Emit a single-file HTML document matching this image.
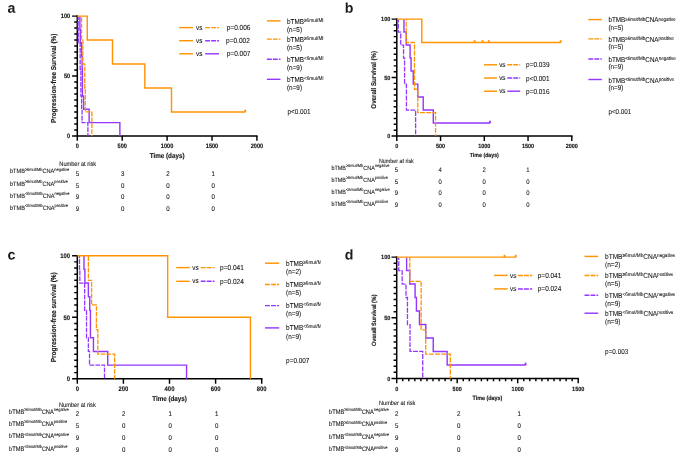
<!DOCTYPE html>
<html lang="en">
<head>
<meta charset="utf-8">
<title>Kaplan-Meier survival by bTMB and CNA status</title>
<style>
html,body{margin:0;padding:0;background:#fff;}
body{width:685px;height:462px;overflow:hidden;font-family:"Liberation Sans",Arial,Helvetica,sans-serif;}
svg{display:block;}
</style>
</head>
<body>
<svg width="685" height="462" viewBox="0 0 685 462" font-family="'Liberation Sans', Arial, Helvetica, sans-serif" fill="#161616" text-rendering="geometricPrecision">
<rect width="685" height="462" fill="#fff"/>
<text transform="translate(7.5 12.7) rotate(0.04) scale(0.7100 0.7100)" font-size="20" font-weight="bold" fill="#1c1c1c">a</text>
<text transform="translate(344.8 12.7) rotate(0.04) scale(0.7100 0.7100)" font-size="20" font-weight="bold" fill="#1c1c1c">b</text>
<text transform="translate(7.5 259.6) rotate(0.04) scale(0.7100 0.7100)" font-size="20" font-weight="bold" fill="#1c1c1c">c</text>
<text transform="translate(344.8 259.6) rotate(0.04) scale(0.7100 0.7100)" font-size="20" font-weight="bold" fill="#1c1c1c">d</text>
<g id="pa">
<path d="M77.3 15.35 V135.9 H257.65" fill="none" stroke="#000" stroke-width="1.5" stroke-linejoin="miter"/>
<path d="M77.3 135.9h-5.2M77.3 129.91h-3.1M77.3 123.92h-3.1M77.3 117.93h-3.1M77.3 111.94h-3.1M77.3 105.95h-3.1M77.3 99.96h-3.1M77.3 93.97h-3.1M77.3 87.98h-3.1M77.3 81.99h-3.1M77.3 76h-5.2M77.3 70.01h-3.1M77.3 64.02h-3.1M77.3 58.03h-3.1M77.3 52.04h-3.1M77.3 46.05h-3.1M77.3 40.06h-3.1M77.3 34.07h-3.1M77.3 28.08h-3.1M77.3 22.09h-3.1M77.3 16.1h-5.2M77.3 135.9v4.9M122.2 135.9v4.9M167.1 135.9v4.9M212 135.9v4.9M256.9 135.9v4.9" fill="none" stroke="#000" stroke-width="1.45"/>
<text transform="translate(70.2 138.15) rotate(0.04) scale(0.2800 0.3136)" font-size="20" text-anchor="end" font-weight="bold" stroke="#161616" stroke-width="0.43">0</text>
<text transform="translate(70.2 78.25) rotate(0.04) scale(0.2800 0.3136)" font-size="20" text-anchor="end" font-weight="bold" stroke="#161616" stroke-width="0.43">50</text>
<text transform="translate(70.2 18.35) rotate(0.04) scale(0.2800 0.3136)" font-size="20" text-anchor="end" font-weight="bold" stroke="#161616" stroke-width="0.43">100</text>
<text transform="translate(77.3 147.9) rotate(0.04) scale(0.2800 0.3136)" font-size="20" text-anchor="middle" font-weight="bold" stroke="#161616" stroke-width="0.43">0</text>
<text transform="translate(122.2 147.9) rotate(0.04) scale(0.2800 0.3136)" font-size="20" text-anchor="middle" font-weight="bold" stroke="#161616" stroke-width="0.43">500</text>
<text transform="translate(167.1 147.9) rotate(0.04) scale(0.2800 0.3136)" font-size="20" text-anchor="middle" font-weight="bold" stroke="#161616" stroke-width="0.43">1000</text>
<text transform="translate(212 147.9) rotate(0.04) scale(0.2800 0.3136)" font-size="20" text-anchor="middle" font-weight="bold" stroke="#161616" stroke-width="0.43">1500</text>
<text transform="translate(256.9 147.9) rotate(0.04) scale(0.2800 0.3136)" font-size="20" text-anchor="middle" font-weight="bold" stroke="#161616" stroke-width="0.43">2000</text>
<text transform="translate(167.1 158.4) rotate(0.04) scale(0.3150 0.3528)" font-size="20" text-anchor="middle" font-weight="bold" stroke="#161616" stroke-width="0.38">Time (days)</text>
<text transform="translate(55.9 78.3) rotate(-89.96) scale(0.3185 0.3567)" font-size="20" text-anchor="middle" font-weight="bold" stroke="#161616" stroke-width="0.38">Progression-free Survival (%)</text>
<path d="M79.9 16.5 V29.4 H80.26 V42.7 H81.61 V55.99 H82.15 V69.29 H82.42 V96.01 H83.59 V109.3 H89.15 V122.6 H119.87 V135.9" fill="none" stroke="#9437FF" stroke-width="1.42"/>
<path d="M78.15 16.5 V29.4 H78.29 V42.7 H80.17 V69.29 H80.89 V96.01 H81.61 V109.3 H82.06 V122.6 H87.9 V135.9" fill="none" stroke="#9437FF" stroke-width="1.3" stroke-dasharray="4.65 1.15" stroke-dashoffset="1.25"/>
<path d="M81.61 16.5 V40.06 H82.87 V64.02 H84.75 V87.98 H85.29 V111.94 H91.85 V135.9" fill="none" stroke="#FF9300" stroke-width="1.3" stroke-dasharray="4.65 1.15" stroke-dashoffset="4.71"/>
<path d="M77.3 16.1 H87.27 V40.06 H112.5 V64.02 H144.83 V87.98 H171.5 V111.94 H245.23" fill="none" stroke="#FF9300" stroke-width="1.42"/>
<path d="M245.23 112.24 v-2.6" fill="none" stroke="#FF9300" stroke-width="1.8"/>
<path d="M179.2 27.6H193" stroke="#FF9300" stroke-width="1.42" fill="none"/>
<text transform="translate(196.1 29.75) rotate(0.04) scale(0.3200 0.3584)" font-size="20" stroke="#161616" stroke-width="0.25">vs</text>
<path d="M205.2 27.6H219" stroke="#FF9300" stroke-width="1.45" fill="none" stroke-dasharray="4.9 1.1"/>
<text transform="translate(226.7 30.18) rotate(0.04) scale(0.3264 0.3656)" font-size="20" stroke="#161616" stroke-width="0.25">p=0.006</text>
<path d="M179.2 40.7H193" stroke="#FF9300" stroke-width="1.42" fill="none"/>
<text transform="translate(196.1 42.85) rotate(0.04) scale(0.3200 0.3584)" font-size="20" stroke="#161616" stroke-width="0.25">vs</text>
<path d="M205.2 40.7H219" stroke="#9437FF" stroke-width="1.45" fill="none" stroke-dasharray="4.9 1.1"/>
<text transform="translate(226 43.28) rotate(0.04) scale(0.3264 0.3656)" font-size="20" stroke="#161616" stroke-width="0.25">p=0.002</text>
<path d="M179.2 53.8H193" stroke="#FF9300" stroke-width="1.42" fill="none"/>
<text transform="translate(196.1 55.95) rotate(0.04) scale(0.3200 0.3584)" font-size="20" stroke="#161616" stroke-width="0.25">vs</text>
<path d="M205.2 53.8H219" stroke="#9437FF" stroke-width="1.42" fill="none"/>
<text transform="translate(226.7 56.38) rotate(0.04) scale(0.3264 0.3656)" font-size="20" stroke="#161616" stroke-width="0.25">p=0.007</text>
<clipPath id="ca"><rect x="285" y="8.9" width="38.4" height="88.4"/></clipPath>
<g clip-path="url(#ca)">
<text transform="translate(287 23.8) rotate(0.04) scale(0.3175 0.3556)" font-size="20" stroke="#161616" stroke-width="0.25">bTMB<tspan dy="-5.34" font-size="14.96">≥6mut/Mb</tspan></text>
<text transform="translate(287 32) rotate(0.04) scale(0.3175 0.3556)" font-size="20" stroke="#161616" stroke-width="0.25">(n=5)</text>
<text transform="translate(287 42) rotate(0.04) scale(0.3175 0.3556)" font-size="20" stroke="#161616" stroke-width="0.25">bTMB<tspan dy="-5.34" font-size="14.96">≥6mut/Mb</tspan></text>
<text transform="translate(287 50.2) rotate(0.04) scale(0.3175 0.3556)" font-size="20" stroke="#161616" stroke-width="0.25">(n=5)</text>
<text transform="translate(287 62.1) rotate(0.04) scale(0.3175 0.3556)" font-size="20" stroke="#161616" stroke-width="0.25">bTMB<tspan dy="-5.34" font-size="14.96">&lt;6mut/Mb</tspan></text>
<text transform="translate(287 70.3) rotate(0.04) scale(0.3175 0.3556)" font-size="20" stroke="#161616" stroke-width="0.25">(n=9)</text>
<text transform="translate(287 82.2) rotate(0.04) scale(0.3175 0.3556)" font-size="20" stroke="#161616" stroke-width="0.25">bTMB<tspan dy="-5.34" font-size="14.96">&lt;6mut/Mb</tspan></text>
<text transform="translate(287 90.4) rotate(0.04) scale(0.3175 0.3556)" font-size="20" stroke="#161616" stroke-width="0.25">(n=9)</text>
</g>
<path d="M266.9 20.9H280.5" stroke="#FF9300" stroke-width="1.42" fill="none"/>
<path d="M266.9 39.1H280.5" stroke="#FF9300" stroke-width="1.45" fill="none" stroke-dasharray="4.9 1.1"/>
<path d="M266.9 59.2H280.5" stroke="#9437FF" stroke-width="1.45" fill="none" stroke-dasharray="4.9 1.1"/>
<path d="M266.9 79.3H280.5" stroke="#9437FF" stroke-width="1.42" fill="none"/>
<text transform="translate(287.4 114.1) rotate(0.04) scale(0.3175 0.3556)" font-size="20" stroke="#161616" stroke-width="0.25">p&lt;0.001</text>
<text transform="translate(59.3 165.7) rotate(0.04) scale(0.2825 0.3164)" font-size="20" stroke="#161616" stroke-width="0.28">Number at risk</text>
<text transform="translate(10 173.3) rotate(0.04) scale(0.2800 0.3136)" font-size="20" stroke="#161616" stroke-width="0.29">bTMB<tspan dy="-7.97" font-size="14.14">≥6mut/Mb</tspan><tspan dy="7.97">CNA</tspan><tspan dy="-7.97" font-size="14.14">negative</tspan></text>
<text transform="translate(77.5 175.7) rotate(0.04) scale(0.3050 0.3416)" font-size="20" text-anchor="middle" stroke="#161616" stroke-width="0.26">5</text>
<text transform="translate(122.75 175.7) rotate(0.04) scale(0.3050 0.3416)" font-size="20" text-anchor="middle" stroke="#161616" stroke-width="0.26">3</text>
<text transform="translate(168 175.7) rotate(0.04) scale(0.3050 0.3416)" font-size="20" text-anchor="middle" stroke="#161616" stroke-width="0.26">2</text>
<text transform="translate(213.25 175.7) rotate(0.04) scale(0.3050 0.3416)" font-size="20" text-anchor="middle" stroke="#161616" stroke-width="0.26">1</text>
<text transform="translate(10 185.5) rotate(0.04) scale(0.2800 0.3136)" font-size="20" stroke="#161616" stroke-width="0.29">bTMB<tspan dy="-7.97" font-size="14.14">≥6mut/Mb</tspan><tspan dy="7.97">CNA</tspan><tspan dy="-7.97" font-size="14.14">positive</tspan></text>
<text transform="translate(77.5 187.55) rotate(0.04) scale(0.3050 0.3416)" font-size="20" text-anchor="middle" stroke="#161616" stroke-width="0.26">5</text>
<text transform="translate(122.75 187.55) rotate(0.04) scale(0.3050 0.3416)" font-size="20" text-anchor="middle" stroke="#161616" stroke-width="0.26">0</text>
<text transform="translate(168 187.55) rotate(0.04) scale(0.3050 0.3416)" font-size="20" text-anchor="middle" stroke="#161616" stroke-width="0.26">0</text>
<text transform="translate(213.25 187.55) rotate(0.04) scale(0.3050 0.3416)" font-size="20" text-anchor="middle" stroke="#161616" stroke-width="0.26">0</text>
<text transform="translate(10 197.7) rotate(0.04) scale(0.2800 0.3136)" font-size="20" stroke="#161616" stroke-width="0.29">bTMB<tspan dy="-7.97" font-size="14.14">&lt;6mut/Mb</tspan><tspan dy="7.97">CNA</tspan><tspan dy="-7.97" font-size="14.14">negative</tspan></text>
<text transform="translate(77.5 199.4) rotate(0.04) scale(0.3050 0.3416)" font-size="20" text-anchor="middle" stroke="#161616" stroke-width="0.26">9</text>
<text transform="translate(122.75 199.4) rotate(0.04) scale(0.3050 0.3416)" font-size="20" text-anchor="middle" stroke="#161616" stroke-width="0.26">0</text>
<text transform="translate(168 199.4) rotate(0.04) scale(0.3050 0.3416)" font-size="20" text-anchor="middle" stroke="#161616" stroke-width="0.26">0</text>
<text transform="translate(213.25 199.4) rotate(0.04) scale(0.3050 0.3416)" font-size="20" text-anchor="middle" stroke="#161616" stroke-width="0.26">0</text>
<text transform="translate(10 209.9) rotate(0.04) scale(0.2800 0.3136)" font-size="20" stroke="#161616" stroke-width="0.29">bTMB<tspan dy="-7.97" font-size="14.14">&lt;6mut/Mb</tspan><tspan dy="7.97">CNA</tspan><tspan dy="-7.97" font-size="14.14">positive</tspan></text>
<text transform="translate(77.5 211.25) rotate(0.04) scale(0.3050 0.3416)" font-size="20" text-anchor="middle" stroke="#161616" stroke-width="0.26">9</text>
<text transform="translate(122.75 211.25) rotate(0.04) scale(0.3050 0.3416)" font-size="20" text-anchor="middle" stroke="#161616" stroke-width="0.26">0</text>
<text transform="translate(168 211.25) rotate(0.04) scale(0.3050 0.3416)" font-size="20" text-anchor="middle" stroke="#161616" stroke-width="0.26">0</text>
<text transform="translate(213.25 211.25) rotate(0.04) scale(0.3050 0.3416)" font-size="20" text-anchor="middle" stroke="#161616" stroke-width="0.26">0</text>
</g>
<g id="pb">
<path d="M396.8 18.35 V136 H572.55" fill="none" stroke="#000" stroke-width="1.5" stroke-linejoin="miter"/>
<path d="M396.8 136h-5.2M396.8 130.16h-3.1M396.8 124.31h-3.1M396.8 118.47h-3.1M396.8 112.62h-3.1M396.8 106.78h-3.1M396.8 100.93h-3.1M396.8 95.08h-3.1M396.8 89.24h-3.1M396.8 83.39h-3.1M396.8 77.55h-5.2M396.8 71.7h-3.1M396.8 65.86h-3.1M396.8 60.02h-3.1M396.8 54.17h-3.1M396.8 48.33h-3.1M396.8 42.48h-3.1M396.8 36.63h-3.1M396.8 30.79h-3.1M396.8 24.95h-3.1M396.8 19.1h-5.2M396.8 136v4.9M440.55 136v4.9M484.3 136v4.9M528.05 136v4.9M571.8 136v4.9" fill="none" stroke="#000" stroke-width="1.45"/>
<text transform="translate(390.3 138.21) rotate(0.04) scale(0.2750 0.3080)" font-size="20" text-anchor="end" font-weight="bold" stroke="#161616" stroke-width="0.44">0</text>
<text transform="translate(390.3 79.76) rotate(0.04) scale(0.2750 0.3080)" font-size="20" text-anchor="end" font-weight="bold" stroke="#161616" stroke-width="0.44">50</text>
<text transform="translate(390.3 21.31) rotate(0.04) scale(0.2750 0.3080)" font-size="20" text-anchor="end" font-weight="bold" stroke="#161616" stroke-width="0.44">100</text>
<text transform="translate(396.8 147.8) rotate(0.04) scale(0.2750 0.3080)" font-size="20" text-anchor="middle" font-weight="bold" stroke="#161616" stroke-width="0.44">0</text>
<text transform="translate(440.55 147.8) rotate(0.04) scale(0.2750 0.3080)" font-size="20" text-anchor="middle" font-weight="bold" stroke="#161616" stroke-width="0.44">500</text>
<text transform="translate(484.3 147.8) rotate(0.04) scale(0.2750 0.3080)" font-size="20" text-anchor="middle" font-weight="bold" stroke="#161616" stroke-width="0.44">1000</text>
<text transform="translate(528.05 147.8) rotate(0.04) scale(0.2750 0.3080)" font-size="20" text-anchor="middle" font-weight="bold" stroke="#161616" stroke-width="0.44">1500</text>
<text transform="translate(571.8 147.8) rotate(0.04) scale(0.2750 0.3080)" font-size="20" text-anchor="middle" font-weight="bold" stroke="#161616" stroke-width="0.44">2000</text>
<text transform="translate(484.3 156.7) rotate(0.04) scale(0.2625 0.2940)" font-size="20" text-anchor="middle" font-weight="bold" stroke="#161616" stroke-width="0.46">Time (days)</text>
<text transform="translate(375.7 79.75) rotate(-89.96) scale(0.3075 0.3444)" font-size="20" text-anchor="middle" font-weight="bold" stroke="#161616" stroke-width="0.39">Overall Survival (%)</text>
<path d="M403.98 19.5 V32.08 H406.25 V45.05 H410.1 V58.03 H411.06 V71 H413.25 V84.1 H417.8 V97.07 H423.23 V110.05 H433.29 V123.02 H489.99" fill="none" stroke="#9437FF" stroke-width="1.42"/>
<path d="M489.99 123.32 v-2.6" fill="none" stroke="#9437FF" stroke-width="1.8"/>
<path d="M398.29 19.5 V32.08 H400.74 V45.05 H403.54 V58.03 H404.59 V84.1 H406.43 V110.05 H415.61 V136" fill="none" stroke="#9437FF" stroke-width="1.3" stroke-dasharray="4.9 1.25" stroke-dashoffset="1.89"/>
<path d="M406.25 19.5 V42.48 H414.48 V89.24 H417.8 V112.62 H435.56 V136" fill="none" stroke="#FF9300" stroke-width="1.3" stroke-dasharray="4.9 1.25" stroke-dashoffset="9.85"/>
<path d="M396.8 19.1 H421.82 V42.48 H560.69" fill="none" stroke="#FF9300" stroke-width="1.42"/>
<path d="M474.68 42.78 v-2.6" fill="none" stroke="#FF9300" stroke-width="1.8"/>
<path d="M482.46 42.78 v-2.6" fill="none" stroke="#FF9300" stroke-width="1.8"/>
<path d="M488.76 42.78 v-2.6" fill="none" stroke="#FF9300" stroke-width="1.8"/>
<path d="M560.69 42.78 v-2.6" fill="none" stroke="#FF9300" stroke-width="1.8"/>
<path d="M484 64.8H497" stroke="#FF9300" stroke-width="1.42" fill="none"/>
<text transform="translate(499.2 66.92) rotate(0.04) scale(0.3150 0.3528)" font-size="20" stroke="#161616" stroke-width="0.25">vs</text>
<path d="M507.3 64.8H520.2" stroke="#FF9300" stroke-width="1.45" fill="none" stroke-dasharray="4.9 1.1"/>
<text transform="translate(526.1 67.34) rotate(0.04) scale(0.3213 0.3599)" font-size="20" stroke="#161616" stroke-width="0.25">p=0.039</text>
<path d="M484 78H497" stroke="#FF9300" stroke-width="1.42" fill="none"/>
<text transform="translate(499.2 80.12) rotate(0.04) scale(0.3150 0.3528)" font-size="20" stroke="#161616" stroke-width="0.25">vs</text>
<path d="M507.3 78H520.2" stroke="#9437FF" stroke-width="1.45" fill="none" stroke-dasharray="4.9 1.1"/>
<text transform="translate(526.1 80.54) rotate(0.04) scale(0.3213 0.3599)" font-size="20" stroke="#161616" stroke-width="0.25">p&lt;0.001</text>
<path d="M484 91.2H497" stroke="#FF9300" stroke-width="1.42" fill="none"/>
<text transform="translate(499.2 93.32) rotate(0.04) scale(0.3150 0.3528)" font-size="20" stroke="#161616" stroke-width="0.25">vs</text>
<path d="M507.3 91.2H520.2" stroke="#9437FF" stroke-width="1.42" fill="none"/>
<text transform="translate(526.1 93.74) rotate(0.04) scale(0.3213 0.3599)" font-size="20" stroke="#161616" stroke-width="0.25">p=0.016</text>
<text transform="translate(608.4 22.4) rotate(0.04) scale(0.3150 0.3528)" font-size="20" stroke="#161616" stroke-width="0.25">bTMB<tspan dy="-5.39" font-size="14.29">≥6mut/Mb</tspan><tspan dy="5.39">CNA</tspan><tspan dy="-5.39" font-size="14.29">negative</tspan></text>
<text transform="translate(608.4 30) rotate(0.04) scale(0.3150 0.3528)" font-size="20" stroke="#161616" stroke-width="0.25">(n=5)</text>
<text transform="translate(608.4 41.95) rotate(0.04) scale(0.3150 0.3528)" font-size="20" stroke="#161616" stroke-width="0.25">bTMB<tspan dy="-5.39" font-size="14.29">≥6mut/Mb</tspan><tspan dy="5.39">CNA</tspan><tspan dy="-5.39" font-size="14.29">positive</tspan></text>
<text transform="translate(608.4 49.25) rotate(0.04) scale(0.3150 0.3528)" font-size="20" stroke="#161616" stroke-width="0.25">(n=5)</text>
<text transform="translate(608.4 61.6) rotate(0.04) scale(0.3150 0.3528)" font-size="20" stroke="#161616" stroke-width="0.25">bTMB<tspan dy="-5.39" font-size="14.29">&lt;6mut/Mb</tspan><tspan dy="5.39">CNA</tspan><tspan dy="-5.39" font-size="14.29">negative</tspan></text>
<text transform="translate(608.4 69.4) rotate(0.04) scale(0.3150 0.3528)" font-size="20" stroke="#161616" stroke-width="0.25">(n=9)</text>
<text transform="translate(608.4 82.7) rotate(0.04) scale(0.3150 0.3528)" font-size="20" stroke="#161616" stroke-width="0.25">bTMB<tspan dy="-5.39" font-size="14.29">&lt;6mut/Mb</tspan><tspan dy="5.39">CNA</tspan><tspan dy="-5.39" font-size="14.29">positive</tspan></text>
<text transform="translate(608.4 89.9) rotate(0.04) scale(0.3150 0.3528)" font-size="20" stroke="#161616" stroke-width="0.25">(n=9)</text>
<path d="M588.4 19.6H601.8" stroke="#FF9300" stroke-width="1.42" fill="none"/>
<path d="M588.4 38.85H601.8" stroke="#FF9300" stroke-width="1.45" fill="none" stroke-dasharray="4.9 1.1"/>
<path d="M588.4 59H601.8" stroke="#9437FF" stroke-width="1.45" fill="none" stroke-dasharray="4.9 1.1"/>
<path d="M588.4 79.5H601.8" stroke="#9437FF" stroke-width="1.42" fill="none"/>
<text transform="translate(608.4 114) rotate(0.04) scale(0.3150 0.3528)" font-size="20" stroke="#161616" stroke-width="0.25">p&lt;0.001</text>
<text transform="translate(379 162.6) rotate(0.04) scale(0.2675 0.2996)" font-size="20" stroke="#161616" stroke-width="0.3">Number at risk</text>
<text transform="translate(331.5 169.6) rotate(0.04) scale(0.2715 0.3041)" font-size="20" stroke="#161616" stroke-width="0.29">bTMB<tspan dy="-8.22" font-size="14.36">≥6mut/Mb</tspan><tspan dy="8.22">CNA</tspan><tspan dy="-8.22" font-size="14.36">negative</tspan></text>
<text transform="translate(396.3 172.3) rotate(0.04) scale(0.2950 0.3304)" font-size="20" text-anchor="middle" stroke="#161616" stroke-width="0.27">5</text>
<text transform="translate(440.2 172.3) rotate(0.04) scale(0.2950 0.3304)" font-size="20" text-anchor="middle" stroke="#161616" stroke-width="0.27">4</text>
<text transform="translate(484.1 172.3) rotate(0.04) scale(0.2950 0.3304)" font-size="20" text-anchor="middle" stroke="#161616" stroke-width="0.27">2</text>
<text transform="translate(528 172.3) rotate(0.04) scale(0.2950 0.3304)" font-size="20" text-anchor="middle" stroke="#161616" stroke-width="0.27">1</text>
<text transform="translate(331.5 181.6) rotate(0.04) scale(0.2715 0.3041)" font-size="20" stroke="#161616" stroke-width="0.29">bTMB<tspan dy="-8.22" font-size="14.36">≥6mut/Mb</tspan><tspan dy="8.22">CNA</tspan><tspan dy="-8.22" font-size="14.36">positive</tspan></text>
<text transform="translate(396.3 183.8) rotate(0.04) scale(0.2950 0.3304)" font-size="20" text-anchor="middle" stroke="#161616" stroke-width="0.27">5</text>
<text transform="translate(440.2 183.8) rotate(0.04) scale(0.2950 0.3304)" font-size="20" text-anchor="middle" stroke="#161616" stroke-width="0.27">0</text>
<text transform="translate(484.1 183.8) rotate(0.04) scale(0.2950 0.3304)" font-size="20" text-anchor="middle" stroke="#161616" stroke-width="0.27">0</text>
<text transform="translate(528 183.8) rotate(0.04) scale(0.2950 0.3304)" font-size="20" text-anchor="middle" stroke="#161616" stroke-width="0.27">0</text>
<text transform="translate(331.5 193.6) rotate(0.04) scale(0.2715 0.3041)" font-size="20" stroke="#161616" stroke-width="0.29">bTMB<tspan dy="-8.22" font-size="14.36">&lt;6mut/Mb</tspan><tspan dy="8.22">CNA</tspan><tspan dy="-8.22" font-size="14.36">negative</tspan></text>
<text transform="translate(396.3 195.3) rotate(0.04) scale(0.2950 0.3304)" font-size="20" text-anchor="middle" stroke="#161616" stroke-width="0.27">9</text>
<text transform="translate(440.2 195.3) rotate(0.04) scale(0.2950 0.3304)" font-size="20" text-anchor="middle" stroke="#161616" stroke-width="0.27">0</text>
<text transform="translate(484.1 195.3) rotate(0.04) scale(0.2950 0.3304)" font-size="20" text-anchor="middle" stroke="#161616" stroke-width="0.27">0</text>
<text transform="translate(528 195.3) rotate(0.04) scale(0.2950 0.3304)" font-size="20" text-anchor="middle" stroke="#161616" stroke-width="0.27">0</text>
<text transform="translate(331.5 205.6) rotate(0.04) scale(0.2715 0.3041)" font-size="20" stroke="#161616" stroke-width="0.29">bTMB<tspan dy="-8.22" font-size="14.36">&lt;6mut/Mb</tspan><tspan dy="8.22">CNA</tspan><tspan dy="-8.22" font-size="14.36">positive</tspan></text>
<text transform="translate(396.3 206.8) rotate(0.04) scale(0.2950 0.3304)" font-size="20" text-anchor="middle" stroke="#161616" stroke-width="0.27">9</text>
<text transform="translate(440.2 206.8) rotate(0.04) scale(0.2950 0.3304)" font-size="20" text-anchor="middle" stroke="#161616" stroke-width="0.27">0</text>
<text transform="translate(484.1 206.8) rotate(0.04) scale(0.2950 0.3304)" font-size="20" text-anchor="middle" stroke="#161616" stroke-width="0.27">0</text>
<text transform="translate(528 206.8) rotate(0.04) scale(0.2950 0.3304)" font-size="20" text-anchor="middle" stroke="#161616" stroke-width="0.27">0</text>
</g>
<g id="pc">
<path d="M77.3 254.95 V378.8 H262.45" fill="none" stroke="#000" stroke-width="1.5" stroke-linejoin="miter"/>
<path d="M77.3 378.8h-5.2M77.3 372.64h-3.1M77.3 366.49h-3.1M77.3 360.34h-3.1M77.3 354.18h-3.1M77.3 348.02h-3.1M77.3 341.87h-3.1M77.3 335.72h-3.1M77.3 329.56h-3.1M77.3 323.41h-3.1M77.3 317.25h-5.2M77.3 311.1h-3.1M77.3 304.94h-3.1M77.3 298.78h-3.1M77.3 292.63h-3.1M77.3 286.48h-3.1M77.3 280.32h-3.1M77.3 274.16h-3.1M77.3 268.01h-3.1M77.3 261.86h-3.1M77.3 255.7h-5.2M77.3 378.8v4.9M123.4 378.8v4.9M169.5 378.8v4.9M215.6 378.8v4.9M261.7 378.8v4.9" fill="none" stroke="#000" stroke-width="1.45"/>
<text transform="translate(70.1 381.17) rotate(0.04) scale(0.2950 0.3304)" font-size="20" text-anchor="end" font-weight="bold" stroke="#161616" stroke-width="0.41">0</text>
<text transform="translate(70.1 319.62) rotate(0.04) scale(0.2950 0.3304)" font-size="20" text-anchor="end" font-weight="bold" stroke="#161616" stroke-width="0.41">50</text>
<text transform="translate(70.1 258.07) rotate(0.04) scale(0.2950 0.3304)" font-size="20" text-anchor="end" font-weight="bold" stroke="#161616" stroke-width="0.41">100</text>
<text transform="translate(77.3 390.7) rotate(0.04) scale(0.2950 0.3304)" font-size="20" text-anchor="middle" font-weight="bold" stroke="#161616" stroke-width="0.41">0</text>
<text transform="translate(123.4 390.7) rotate(0.04) scale(0.2950 0.3304)" font-size="20" text-anchor="middle" font-weight="bold" stroke="#161616" stroke-width="0.41">200</text>
<text transform="translate(169.5 390.7) rotate(0.04) scale(0.2950 0.3304)" font-size="20" text-anchor="middle" font-weight="bold" stroke="#161616" stroke-width="0.41">400</text>
<text transform="translate(215.6 390.7) rotate(0.04) scale(0.2950 0.3304)" font-size="20" text-anchor="middle" font-weight="bold" stroke="#161616" stroke-width="0.41">600</text>
<text transform="translate(261.7 390.7) rotate(0.04) scale(0.2950 0.3304)" font-size="20" text-anchor="middle" font-weight="bold" stroke="#161616" stroke-width="0.41">800</text>
<text transform="translate(169.5 401.4) rotate(0.04) scale(0.3125 0.3500)" font-size="20" text-anchor="middle" font-weight="bold" stroke="#161616" stroke-width="0.38">Time (days)</text>
<text transform="translate(55.9 317.25) rotate(-89.96) scale(0.3240 0.3629)" font-size="20" text-anchor="middle" font-weight="bold" stroke="#161616" stroke-width="0.37">Progression-free survival (%)</text>
<path d="M83.98 256.1 V269.36 H84.91 V283.03 H88.36 V296.69 H89.75 V310.36 H90.44 V337.81 H93.44 V351.47 H107.73 V365.14 H186.56 V378.8" fill="none" stroke="#9437FF" stroke-width="1.42"/>
<path d="M79.49 256.1 V269.36 H79.84 V283.03 H84.68 V310.36 H86.52 V337.81 H88.36 V351.47 H89.52 V365.14 H104.5 V378.8" fill="none" stroke="#9437FF" stroke-width="1.3" stroke-dasharray="4.65 1.15" stroke-dashoffset="2.59"/>
<path d="M88.36 256.1 V280.32 H91.59 V304.94 H96.43 V329.56 H97.81 V354.18 H114.64 V378.8" fill="none" stroke="#FF9300" stroke-width="1.3" stroke-dasharray="4.65 1.15" stroke-dashoffset="11.46"/>
<path d="M77.3 255.7 H167.66 V317.25 H250.41 V378.8" fill="none" stroke="#FF9300" stroke-width="1.42"/>
<path d="M176.2 267.6H189.7" stroke="#FF9300" stroke-width="1.42" fill="none"/>
<text transform="translate(192.2 269.75) rotate(0.04) scale(0.3200 0.3584)" font-size="20" stroke="#161616" stroke-width="0.25">vs</text>
<path d="M200.7 267.6H214.5" stroke="#FF9300" stroke-width="1.45" fill="none" stroke-dasharray="4.9 1.1"/>
<text transform="translate(220.1 270.18) rotate(0.04) scale(0.3264 0.3656)" font-size="20" stroke="#161616" stroke-width="0.25">p=0.041</text>
<path d="M176.2 281.3H189.7" stroke="#FF9300" stroke-width="1.42" fill="none"/>
<text transform="translate(192.2 283.45) rotate(0.04) scale(0.3200 0.3584)" font-size="20" stroke="#161616" stroke-width="0.25">vs</text>
<path d="M200.7 281.3H214.5" stroke="#9437FF" stroke-width="1.45" fill="none" stroke-dasharray="4.9 1.1"/>
<text transform="translate(220.1 283.88) rotate(0.04) scale(0.3264 0.3656)" font-size="20" stroke="#161616" stroke-width="0.25">p=0.024</text>
<clipPath id="cc"><rect x="284.1" y="251.2" width="36.6" height="94.7"/></clipPath>
<g clip-path="url(#cc)">
<text transform="translate(286.1 265.8) rotate(0.04) scale(0.3200 0.3584)" font-size="20" stroke="#161616" stroke-width="0.25">bTMB<tspan dy="-5.3" font-size="14.84">≥6mut/Mb</tspan></text>
<text transform="translate(286.1 274.2) rotate(0.04) scale(0.3200 0.3584)" font-size="20" stroke="#161616" stroke-width="0.25">(n=2)</text>
<text transform="translate(286.1 287) rotate(0.04) scale(0.3200 0.3584)" font-size="20" stroke="#161616" stroke-width="0.25">bTMB<tspan dy="-5.3" font-size="14.84">≥6mut/Mb</tspan></text>
<text transform="translate(286.1 295.4) rotate(0.04) scale(0.3200 0.3584)" font-size="20" stroke="#161616" stroke-width="0.25">(n=5)</text>
<text transform="translate(286.1 307.8) rotate(0.04) scale(0.3200 0.3584)" font-size="20" stroke="#161616" stroke-width="0.25">bTMB<tspan dy="-5.3" font-size="14.84">&lt;6mut/Mb</tspan></text>
<text transform="translate(286.1 316.2) rotate(0.04) scale(0.3200 0.3584)" font-size="20" stroke="#161616" stroke-width="0.25">(n=9)</text>
<text transform="translate(286.1 330.1) rotate(0.04) scale(0.3200 0.3584)" font-size="20" stroke="#161616" stroke-width="0.25">bTMB<tspan dy="-5.3" font-size="14.84">&lt;6mut/Mb</tspan></text>
<text transform="translate(286.1 338.5) rotate(0.04) scale(0.3200 0.3584)" font-size="20" stroke="#161616" stroke-width="0.25">(n=9)</text>
</g>
<path d="M265 263.2H279.2" stroke="#FF9300" stroke-width="1.42" fill="none"/>
<path d="M265 284.4H279.2" stroke="#FF9300" stroke-width="1.45" fill="none" stroke-dasharray="4.9 1.1"/>
<path d="M265 305.6H279.2" stroke="#9437FF" stroke-width="1.45" fill="none" stroke-dasharray="4.9 1.1"/>
<path d="M265 327.9H279.2" stroke="#9437FF" stroke-width="1.42" fill="none"/>
<text transform="translate(286.1 362.9) rotate(0.04) scale(0.3200 0.3584)" font-size="20" stroke="#161616" stroke-width="0.25">p=0.007</text>
<text transform="translate(59 406.7) rotate(0.04) scale(0.2825 0.3164)" font-size="20" stroke="#161616" stroke-width="0.28">Number at risk</text>
<text transform="translate(9 413.6) rotate(0.04) scale(0.2850 0.3192)" font-size="20" stroke="#161616" stroke-width="0.28">bTMB<tspan dy="-7.83" font-size="13.89">≥6mut/Mb</tspan><tspan dy="7.83">CNA</tspan><tspan dy="-7.83" font-size="13.89">negative</tspan></text>
<text transform="translate(77.4 416.1) rotate(0.04) scale(0.3050 0.3416)" font-size="20" text-anchor="middle" stroke="#161616" stroke-width="0.26">2</text>
<text transform="translate(123.8 416.1) rotate(0.04) scale(0.3050 0.3416)" font-size="20" text-anchor="middle" stroke="#161616" stroke-width="0.26">2</text>
<text transform="translate(170.2 416.1) rotate(0.04) scale(0.3050 0.3416)" font-size="20" text-anchor="middle" stroke="#161616" stroke-width="0.26">1</text>
<text transform="translate(216.6 416.1) rotate(0.04) scale(0.3050 0.3416)" font-size="20" text-anchor="middle" stroke="#161616" stroke-width="0.26">1</text>
<text transform="translate(9 425.9) rotate(0.04) scale(0.2850 0.3192)" font-size="20" stroke="#161616" stroke-width="0.28">bTMB<tspan dy="-7.83" font-size="13.89">≥6mut/Mb</tspan><tspan dy="7.83">CNA</tspan><tspan dy="-7.83" font-size="13.89">positive</tspan></text>
<text transform="translate(77.4 428.13) rotate(0.04) scale(0.3050 0.3416)" font-size="20" text-anchor="middle" stroke="#161616" stroke-width="0.26">5</text>
<text transform="translate(123.8 428.13) rotate(0.04) scale(0.3050 0.3416)" font-size="20" text-anchor="middle" stroke="#161616" stroke-width="0.26">0</text>
<text transform="translate(170.2 428.13) rotate(0.04) scale(0.3050 0.3416)" font-size="20" text-anchor="middle" stroke="#161616" stroke-width="0.26">0</text>
<text transform="translate(216.6 428.13) rotate(0.04) scale(0.3050 0.3416)" font-size="20" text-anchor="middle" stroke="#161616" stroke-width="0.26">0</text>
<text transform="translate(9 438.2) rotate(0.04) scale(0.2850 0.3192)" font-size="20" stroke="#161616" stroke-width="0.28">bTMB<tspan dy="-7.83" font-size="13.89">&lt;6mut/Mb</tspan><tspan dy="7.83">CNA</tspan><tspan dy="-7.83" font-size="13.89">negative</tspan></text>
<text transform="translate(77.4 440.16) rotate(0.04) scale(0.3050 0.3416)" font-size="20" text-anchor="middle" stroke="#161616" stroke-width="0.26">9</text>
<text transform="translate(123.8 440.16) rotate(0.04) scale(0.3050 0.3416)" font-size="20" text-anchor="middle" stroke="#161616" stroke-width="0.26">0</text>
<text transform="translate(170.2 440.16) rotate(0.04) scale(0.3050 0.3416)" font-size="20" text-anchor="middle" stroke="#161616" stroke-width="0.26">0</text>
<text transform="translate(216.6 440.16) rotate(0.04) scale(0.3050 0.3416)" font-size="20" text-anchor="middle" stroke="#161616" stroke-width="0.26">0</text>
<text transform="translate(9 450.5) rotate(0.04) scale(0.2850 0.3192)" font-size="20" stroke="#161616" stroke-width="0.28">bTMB<tspan dy="-7.83" font-size="13.89">&lt;6mut/Mb</tspan><tspan dy="7.83">CNA</tspan><tspan dy="-7.83" font-size="13.89">positive</tspan></text>
<text transform="translate(77.4 452.19) rotate(0.04) scale(0.3050 0.3416)" font-size="20" text-anchor="middle" stroke="#161616" stroke-width="0.26">9</text>
<text transform="translate(123.8 452.19) rotate(0.04) scale(0.3050 0.3416)" font-size="20" text-anchor="middle" stroke="#161616" stroke-width="0.26">0</text>
<text transform="translate(170.2 452.19) rotate(0.04) scale(0.3050 0.3416)" font-size="20" text-anchor="middle" stroke="#161616" stroke-width="0.26">0</text>
<text transform="translate(216.6 452.19) rotate(0.04) scale(0.3050 0.3416)" font-size="20" text-anchor="middle" stroke="#161616" stroke-width="0.26">0</text>
</g>
<g id="pd">
<path d="M396.7 256.35 V378.4 H578.95" fill="none" stroke="#000" stroke-width="1.5" stroke-linejoin="miter"/>
<path d="M396.7 378.4h-5.2M396.7 372.33h-3.1M396.7 366.27h-3.1M396.7 360.2h-3.1M396.7 354.14h-3.1M396.7 348.07h-3.1M396.7 342.01h-3.1M396.7 335.94h-3.1M396.7 329.88h-3.1M396.7 323.81h-3.1M396.7 317.75h-5.2M396.7 311.69h-3.1M396.7 305.62h-3.1M396.7 299.56h-3.1M396.7 293.49h-3.1M396.7 287.43h-3.1M396.7 281.36h-3.1M396.7 275.3h-3.1M396.7 269.23h-3.1M396.7 263.17h-3.1M396.7 257.1h-5.2M396.7 378.4v4.9M457.2 378.4v4.9M517.7 378.4v4.9M578.2 378.4v4.9M396.7 378.4v2.9M402.75 378.4v2.9M408.8 378.4v2.9M414.85 378.4v2.9M420.9 378.4v2.9M426.95 378.4v2.9M433 378.4v2.9M439.05 378.4v2.9M445.1 378.4v2.9M451.15 378.4v2.9M457.2 378.4v2.9M463.25 378.4v2.9M469.3 378.4v2.9M475.35 378.4v2.9M481.4 378.4v2.9M487.45 378.4v2.9M493.5 378.4v2.9M499.55 378.4v2.9M505.6 378.4v2.9M511.65 378.4v2.9M517.7 378.4v2.9M523.75 378.4v2.9M529.8 378.4v2.9M535.85 378.4v2.9M541.9 378.4v2.9M547.95 378.4v2.9M554 378.4v2.9M560.05 378.4v2.9M566.1 378.4v2.9M572.15 378.4v2.9M578.2 378.4v2.9" fill="none" stroke="#000" stroke-width="1.45"/>
<text transform="translate(390.3 380.61) rotate(0.04) scale(0.2750 0.3080)" font-size="20" text-anchor="end" font-weight="bold" stroke="#161616" stroke-width="0.44">0</text>
<text transform="translate(390.3 319.96) rotate(0.04) scale(0.2750 0.3080)" font-size="20" text-anchor="end" font-weight="bold" stroke="#161616" stroke-width="0.44">50</text>
<text transform="translate(390.3 259.31) rotate(0.04) scale(0.2750 0.3080)" font-size="20" text-anchor="end" font-weight="bold" stroke="#161616" stroke-width="0.44">100</text>
<text transform="translate(396.7 390.8) rotate(0.04) scale(0.2750 0.3080)" font-size="20" text-anchor="middle" font-weight="bold" stroke="#161616" stroke-width="0.44">0</text>
<text transform="translate(457.2 390.8) rotate(0.04) scale(0.2750 0.3080)" font-size="20" text-anchor="middle" font-weight="bold" stroke="#161616" stroke-width="0.44">500</text>
<text transform="translate(517.7 390.8) rotate(0.04) scale(0.2750 0.3080)" font-size="20" text-anchor="middle" font-weight="bold" stroke="#161616" stroke-width="0.44">1000</text>
<text transform="translate(578.2 390.8) rotate(0.04) scale(0.2750 0.3080)" font-size="20" text-anchor="middle" font-weight="bold" stroke="#161616" stroke-width="0.44">1500</text>
<text transform="translate(487.45 400.2) rotate(0.04) scale(0.2700 0.3024)" font-size="20" text-anchor="middle" font-weight="bold" stroke="#161616" stroke-width="0.44">Time (days)</text>
<text transform="translate(375.8 320.25) rotate(-89.96) scale(0.2750 0.3080)" font-size="20" text-anchor="middle" font-weight="bold" stroke="#161616" stroke-width="0.44">Overall Survival (%)</text>
<path d="M406.62 257.5 V270.56 H409.77 V284.03 H415.09 V297.49 H416.42 V310.96 H419.45 V324.54 H425.74 V338.01 H433.24 V351.47 H447.16 V364.94 H525.57" fill="none" stroke="#9437FF" stroke-width="1.42"/>
<path d="M525.57 365.24 v-2.6" fill="none" stroke="#9437FF" stroke-width="1.8"/>
<path d="M398.76 257.5 V270.56 H402.14 V284.03 H406.02 V297.49 H407.47 V324.54 H410.01 V351.47 H422.71 V378.4" fill="none" stroke="#9437FF" stroke-width="1.3" stroke-dasharray="4.9 1.25" stroke-dashoffset="2.46"/>
<path d="M409.77 257.5 V281.36 H421.14 V329.88 H425.74 V354.14 H450.3 V378.4" fill="none" stroke="#FF9300" stroke-width="1.3" stroke-dasharray="4.9 1.25" stroke-dashoffset="13.47"/>
<path d="M396.7 257.1 H515.76" fill="none" stroke="#FF9300" stroke-width="1.42"/>
<path d="M504.51 257.4 v-2.6" fill="none" stroke="#FF9300" stroke-width="1.8"/>
<path d="M515.76 257.4 v-2.6" fill="none" stroke="#FF9300" stroke-width="1.8"/>
<path d="M494.1 275.4H507.7" stroke="#FF9300" stroke-width="1.42" fill="none"/>
<text transform="translate(510 277.52) rotate(0.04) scale(0.3150 0.3528)" font-size="20" stroke="#161616" stroke-width="0.25">vs</text>
<path d="M518 275.4H532.2" stroke="#FF9300" stroke-width="1.45" fill="none" stroke-dasharray="4.9 1.1"/>
<text transform="translate(537.8 277.94) rotate(0.04) scale(0.3213 0.3599)" font-size="20" stroke="#161616" stroke-width="0.25">p=0.041</text>
<path d="M494.1 288.9H507.7" stroke="#FF9300" stroke-width="1.42" fill="none"/>
<text transform="translate(510 291.02) rotate(0.04) scale(0.3150 0.3528)" font-size="20" stroke="#161616" stroke-width="0.25">vs</text>
<path d="M518 288.9H532.2" stroke="#9437FF" stroke-width="1.45" fill="none" stroke-dasharray="4.9 1.1"/>
<text transform="translate(537.8 291.44) rotate(0.04) scale(0.3213 0.3599)" font-size="20" stroke="#161616" stroke-width="0.25">p=0.024</text>
<text transform="translate(605 259.1) rotate(0.04) scale(0.3275 0.3668)" font-size="20" stroke="#161616" stroke-width="0.24">bTMB<tspan dy="-5.18" font-size="14.29">≥6mut/Mb</tspan><tspan dy="5.18">CNA</tspan><tspan dy="-5.18" font-size="14.29">negative</tspan></text>
<text transform="translate(605 266.8) rotate(0.04) scale(0.3275 0.3668)" font-size="20" stroke="#161616" stroke-width="0.24">(n=2)</text>
<text transform="translate(605 278.2) rotate(0.04) scale(0.3275 0.3668)" font-size="20" stroke="#161616" stroke-width="0.24">bTMB<tspan dy="-5.18" font-size="14.29">≥6mut/Mb</tspan><tspan dy="5.18">CNA</tspan><tspan dy="-5.18" font-size="14.29">positive</tspan></text>
<text transform="translate(605 285.9) rotate(0.04) scale(0.3275 0.3668)" font-size="20" stroke="#161616" stroke-width="0.24">(n=5)</text>
<text transform="translate(605 297.9) rotate(0.04) scale(0.3275 0.3668)" font-size="20" stroke="#161616" stroke-width="0.24">bTMB<tspan dy="-5.18" font-size="14.29">&lt;6mut/Mb</tspan><tspan dy="5.18">CNA</tspan><tspan dy="-5.18" font-size="14.29">negative</tspan></text>
<text transform="translate(605 305.6) rotate(0.04) scale(0.3275 0.3668)" font-size="20" stroke="#161616" stroke-width="0.24">(n=9)</text>
<text transform="translate(605 315.9) rotate(0.04) scale(0.3275 0.3668)" font-size="20" stroke="#161616" stroke-width="0.24">bTMB<tspan dy="-5.18" font-size="14.29">&lt;6mut/Mb</tspan><tspan dy="5.18">CNA</tspan><tspan dy="-5.18" font-size="14.29">positive</tspan></text>
<text transform="translate(605 323.6) rotate(0.04) scale(0.3275 0.3668)" font-size="20" stroke="#161616" stroke-width="0.24">(n=9)</text>
<path d="M584.5 256.4H598.2" stroke="#FF9300" stroke-width="1.42" fill="none"/>
<path d="M584.5 275.5H598.2" stroke="#FF9300" stroke-width="1.45" fill="none" stroke-dasharray="4.9 1.1"/>
<path d="M584.5 295.2H598.2" stroke="#9437FF" stroke-width="1.45" fill="none" stroke-dasharray="4.9 1.1"/>
<path d="M584.5 313.2H598.2" stroke="#9437FF" stroke-width="1.42" fill="none"/>
<text transform="translate(605.1 353.9) rotate(0.04) scale(0.3175 0.3556)" font-size="20" stroke="#161616" stroke-width="0.25">p=0.003</text>
<text transform="translate(379 404.9) rotate(0.04) scale(0.2800 0.3136)" font-size="20" stroke="#161616" stroke-width="0.29">Number at risk</text>
<text transform="translate(329 413.6) rotate(0.04) scale(0.2850 0.3192)" font-size="20" stroke="#161616" stroke-width="0.28">bTMB<tspan dy="-7.83" font-size="13.89">≥6mut/Mb</tspan><tspan dy="7.83">CNA</tspan><tspan dy="-7.83" font-size="13.89">negative</tspan></text>
<text transform="translate(396.7 415.9) rotate(0.04) scale(0.3050 0.3416)" font-size="20" text-anchor="middle" stroke="#161616" stroke-width="0.26">2</text>
<text transform="translate(458.6 415.9) rotate(0.04) scale(0.3050 0.3416)" font-size="20" text-anchor="middle" stroke="#161616" stroke-width="0.26">2</text>
<text transform="translate(519.2 415.9) rotate(0.04) scale(0.3050 0.3416)" font-size="20" text-anchor="middle" stroke="#161616" stroke-width="0.26">1</text>
<text transform="translate(329 426.2) rotate(0.04) scale(0.2850 0.3192)" font-size="20" stroke="#161616" stroke-width="0.28">bTMB<tspan dy="-7.83" font-size="13.89">≥6mut/Mb</tspan><tspan dy="7.83">CNA</tspan><tspan dy="-7.83" font-size="13.89">positive</tspan></text>
<text transform="translate(396.7 427.83) rotate(0.04) scale(0.3050 0.3416)" font-size="20" text-anchor="middle" stroke="#161616" stroke-width="0.26">5</text>
<text transform="translate(458.6 427.83) rotate(0.04) scale(0.3050 0.3416)" font-size="20" text-anchor="middle" stroke="#161616" stroke-width="0.26">0</text>
<text transform="translate(519.2 427.83) rotate(0.04) scale(0.3050 0.3416)" font-size="20" text-anchor="middle" stroke="#161616" stroke-width="0.26">0</text>
<text transform="translate(329 438.8) rotate(0.04) scale(0.2850 0.3192)" font-size="20" stroke="#161616" stroke-width="0.28">bTMB<tspan dy="-7.83" font-size="13.89">&lt;6mut/Mb</tspan><tspan dy="7.83">CNA</tspan><tspan dy="-7.83" font-size="13.89">negative</tspan></text>
<text transform="translate(396.7 439.76) rotate(0.04) scale(0.3050 0.3416)" font-size="20" text-anchor="middle" stroke="#161616" stroke-width="0.26">9</text>
<text transform="translate(458.6 439.76) rotate(0.04) scale(0.3050 0.3416)" font-size="20" text-anchor="middle" stroke="#161616" stroke-width="0.26">0</text>
<text transform="translate(519.2 439.76) rotate(0.04) scale(0.3050 0.3416)" font-size="20" text-anchor="middle" stroke="#161616" stroke-width="0.26">0</text>
<text transform="translate(329 451.4) rotate(0.04) scale(0.2850 0.3192)" font-size="20" stroke="#161616" stroke-width="0.28">bTMB<tspan dy="-7.83" font-size="13.89">&lt;6mut/Mb</tspan><tspan dy="7.83">CNA</tspan><tspan dy="-7.83" font-size="13.89">positive</tspan></text>
<text transform="translate(396.7 451.69) rotate(0.04) scale(0.3050 0.3416)" font-size="20" text-anchor="middle" stroke="#161616" stroke-width="0.26">9</text>
<text transform="translate(458.6 451.69) rotate(0.04) scale(0.3050 0.3416)" font-size="20" text-anchor="middle" stroke="#161616" stroke-width="0.26">0</text>
<text transform="translate(519.2 451.69) rotate(0.04) scale(0.3050 0.3416)" font-size="20" text-anchor="middle" stroke="#161616" stroke-width="0.26">0</text>
</g>
</svg>
</body>
</html>
